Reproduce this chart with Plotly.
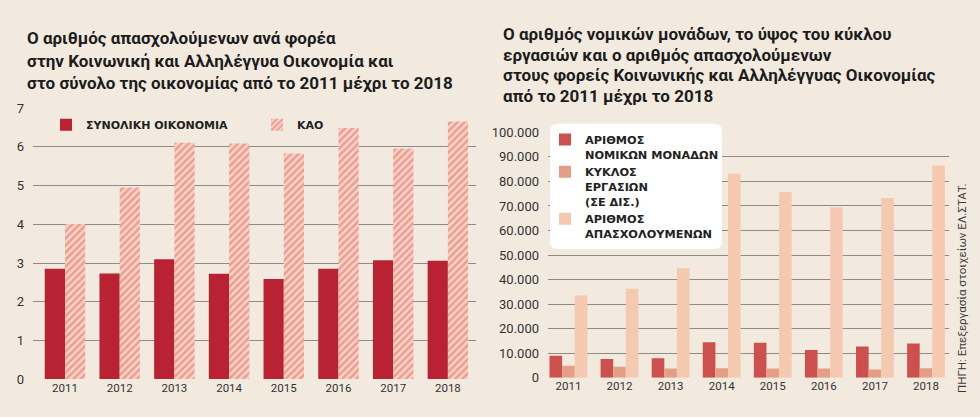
import plotly.graph_objects as go

years = ["2011", "2012", "2013", "2014", "2015", "2016", "2017", "2018"]

# Left chart: employees share (%)
total_economy = [2.85, 2.73, 3.10, 2.72, 2.59, 2.85, 3.07, 3.06]
kao = [4.01, 4.95, 6.11, 6.09, 5.83, 6.49, 5.96, 6.66]

# Right chart
legal_units = [9000, 7700, 8000, 14500, 14300, 11300, 12800, 14000]
turnover = [4900, 4500, 3800, 3900, 3800, 3800, 3400, 3900]
employees = [33500, 36300, 44600, 83100, 75700, 69500, 73300, 86500]

BG = "#f2eadf"
FONT = "Roboto"
LFONT = "DejaVu Sans"
W, H = 980, 417

def px(x):
    return x / W

def py(y):
    return (H - y) / H

fig = go.Figure()

fig.add_trace(go.Bar(
    x=years, y=total_economy, name="ΣΥΝΟΛΙΚΗ ΟΙΚΟΝΟΜΙΑ",
    marker=dict(color="#b92233", line=dict(width=0)),
    xaxis="x", yaxis="y", legend="legend",
))
fig.add_trace(go.Bar(
    x=years, y=kao, name="ΚΑΟ",
    marker=dict(color="#f6d0c3", line=dict(width=0),
                pattern=dict(shape="/", fgcolor="#e4665f", bgcolor="#f7d3c6",
                             size=5, solidity=0.5)),
    xaxis="x", yaxis="y", legend="legend",
))

fig.add_trace(go.Bar(
    x=years, y=legal_units, name="ΑΡΙΘΜΟΣ<br>ΝΟΜΙΚΩΝ ΜΟΝΑΔΩΝ",
    marker=dict(color="#cd4f4e", line=dict(width=0)),
    xaxis="x2", yaxis="y2", legend="legend2", legendgroup="a",
))
fig.add_trace(go.Bar(
    x=years, y=turnover, name="ΚΥΚΛΟΣ<br>ΕΡΓΑΣΙΩΝ<br>(ΣΕ ΔΙΣ.)",
    marker=dict(color="#e39f85", line=dict(width=0)),
    xaxis="x2", yaxis="y2", legend="legend2", legendgroup="b",
))
fig.add_trace(go.Bar(
    x=years, y=employees, name="ΑΡΙΘΜΟΣ<br>ΑΠΑΣΧΟΛΟΥΜΕΝΩΝ",
    marker=dict(color="#f5c8b0", line=dict(width=0)),
    xaxis="x2", yaxis="y2", legend="legend2", legendgroup="c",
))

axis_common = dict(showline=False, ticks="", zeroline=False)

fig.update_layout(
    width=W, height=H,
    margin=dict(l=0, r=0, t=0, b=0),
    paper_bgcolor=BG, plot_bgcolor=BG,
    font=dict(family=FONT, color="#2a2a2a"),
    barmode="group", bargap=0.26, bargroupgap=0,
    separators=",.",
    xaxis=dict(domain=[px(33), px(476)], anchor="y", type="category",
               range=[-0.585, 7.514], tickfont=dict(size=11.5, color="#333"),
               showgrid=False, **axis_common),
    yaxis=dict(domain=[py(386), py(105)], anchor="x", range=[0, 7], dtick=1,
               showgrid=True, gridcolor="#8e8a85", gridwidth=1,
               tickfont=dict(size=13, color="#333"), ticklabelstandoff=8,
               **axis_common),
    xaxis2=dict(domain=[px(548), px(949)], anchor="y2", type="category",
                range=[-0.40, 7.45], tickfont=dict(size=11.5, color="#333"),
                showgrid=False, **axis_common),
    yaxis2=dict(domain=[py(384.7), py(130)], anchor="x2", range=[0, 100000],
                dtick=10000, tickformat=",d",
                showgrid=True, gridcolor="#8e8a85", gridwidth=1,
                tickfont=dict(size=13, color="#333"), ticklabelstandoff=8,
                **axis_common),
    legend=dict(orientation="h", x=px(46), y=py(107), xanchor="left", yanchor="top",
                bgcolor="rgba(0,0,0,0)", entrywidth=166, entrywidthmode="pixels",
                font=dict(size=11, family=LFONT, weight=700, color="#222"),
                traceorder="normal"),
    legend2=dict(orientation="v", x=px(545), y=py(123), xanchor="left", yanchor="top",
                 bgcolor="rgba(0,0,0,0)", tracegroupgap=11, valign="top",
                 font=dict(size=11.3, family=LFONT, weight=700, color="#222"),
                 traceorder="normal"),
    showlegend=True,
)

# rounded white box behind right legend
x0, x1, y0, y1 = px(550), px(722), py(251), py(121)
rx, ry = 8 / W, 8 / H
path = (f"M {x0+rx},{y1} L {x1-rx},{y1} Q {x1},{y1} {x1},{y1-ry} "
        f"L {x1},{y0+ry} Q {x1},{y0} {x1-rx},{y0} L {x0+rx},{y0} "
        f"Q {x0},{y0} {x0},{y0+ry} L {x0},{y1-ry} Q {x0},{y1} {x0+rx},{y1} Z")
fig.add_shape(type="path", path=path, xref="paper", yref="paper",
              fillcolor="white", line=dict(width=0), layer="above")

left_title = ["Ο αριθμός απασχολούμενων ανά φορέα",
              "στην Κοινωνική και Αλληλέγγυα Οικονομία και",
              "στο σύνολο της οικονομίας από το 2011 μέχρι το 2018"]
for i, t in enumerate(left_title):
    fig.add_annotation(text=t, x=px(25), y=py(32.5 + 23 * i), xref="paper", yref="paper",
                       xanchor="left", yanchor="middle", showarrow=False,
                       font=dict(size=17, family=FONT, weight=700, color="#1c1c1c"))

right_title = ["Ο αριθμός νομικών μονάδων, το ύψος του κύκλου",
               "εργασιών και ο αριθμός απασχολούμενων",
               "στους φορείς Κοινωνικής και Αλληλέγγυας Οικονομίας",
               "από το 2011 μέχρι το 2018"]
for i, t in enumerate(right_title):
    fig.add_annotation(text=t, x=px(501), y=py(28 + 21.4 * i), xref="paper", yref="paper",
                       xanchor="left", yanchor="middle", showarrow=False,
                       font=dict(size=17, family=FONT, weight=700, color="#1c1c1c"))

fig.add_annotation(text="ΠΗΓΗ: Επεξεργασία στοιχείων ΕΛ.ΣΤΑΤ.", textangle=-90,
                   x=px(962), y=py(292.5), xref="paper", yref="paper",
                   xanchor="center", yanchor="middle", showarrow=False,
                   font=dict(size=11.5, family=FONT, color="#3a3a3a"))

fig.write_html("out.html")
